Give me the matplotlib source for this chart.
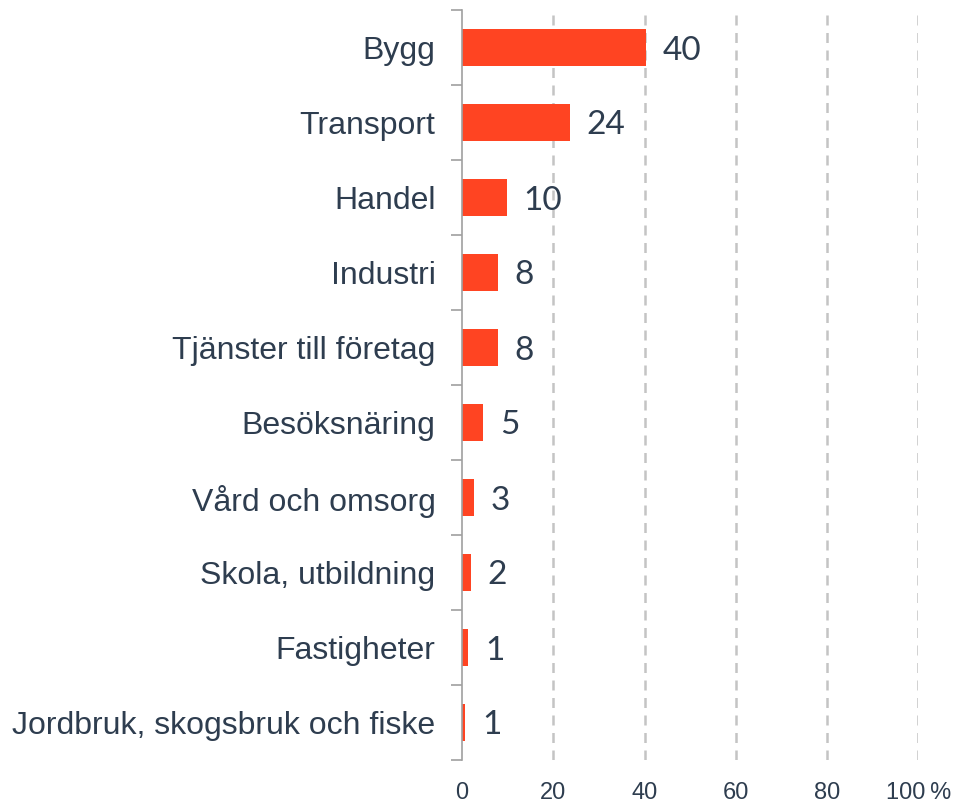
import numpy as np
import matplotlib
matplotlib.use("Agg")
import matplotlib.pyplot as plt

categories = ["Bygg", "Transport", "Handel", "Industri", "Tjänster till företag",
              "Besöksnäring", "Vård och omsorg", "Skola, utbildning", "Fastigheter",
              "Jordbruk, skogsbruk och fiske"]
values = [40.2, 23.7, 9.8, 7.9, 7.9, 4.7, 2.7, 2.0, 1.4, 0.7]
labels = ["40", "24", "10", "8", "8", "5", "3", "2", "1", "1"]
xticks = [0, 20, 40, 60, 80, 100]
xticklabels = ["0", "20", "40", "60", "80", "100\u2009%"]

text_color = "#2e3d4f"
bar_color = "#ff4422"
grid_color = "#c4c4c4"

fig = plt.figure(figsize=(9.7, 8.07), dpi=100)
ax = fig.add_axes([462 / 970, 47 / 807, (918.5 - 462) / 970, 750 / 807])

y = np.arange(len(categories))
ax.barh(y, values, height=0.5, color=bar_color, zorder=3)
ax.set_ylim(len(categories) - 0.5, -0.5)
ax.set_xlim(0, 100)

for yi, v, lab in zip(y, values, labels):
    ax.annotate(lab, (v, yi), xytext=(12, 0), textcoords="offset points",
                va="center_baseline", ha="left", fontsize=24, color=text_color,
                family="Lato")

ax.set_yticks(y)
ax.set_yticklabels(categories, fontsize=23, color=text_color, family="Liberation Sans")
ax.tick_params(axis="y", which="major", length=0, pad=19)
ax.set_yticks(np.arange(-0.5, len(categories)), minor=True)
ax.tick_params(axis="y", which="minor", length=8, width=1.2, color="#a0a0a0")

ax.set_xticks(xticks)
ax.set_xticklabels(xticklabels, fontsize=17, color=text_color,
                   family=["Liberation Sans", "DejaVu Sans"])
ax.tick_params(axis="x", length=0, pad=16)

for xv in xticks[1:]:
    ax.axvline(xv, color=grid_color, lw=1.8, ls=(0, (4, 3)), zorder=1)

for s in ["top", "right", "bottom"]:
    ax.spines[s].set_visible(False)
ax.spines["left"].set_color("#a0a0a0")
ax.spines["left"].set_linewidth(1.2)
ax.spines["left"].set_zorder(4)

fig.savefig("out.png", dpi=100)
